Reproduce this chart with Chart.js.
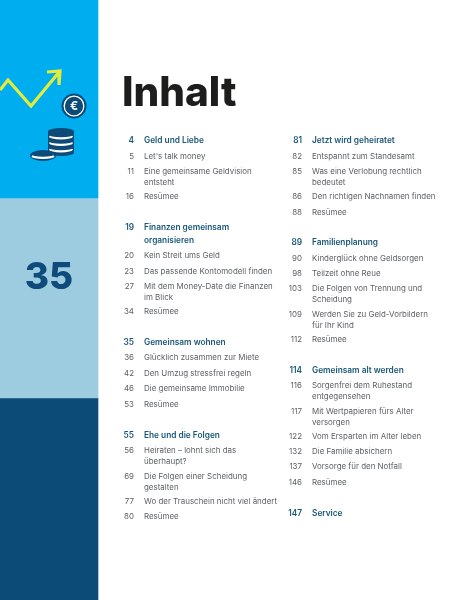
<!DOCTYPE html>
<html lang="de">
<head>
<meta charset="utf-8">
<title>Inhalt</title>
<style>html,body{margin:0;padding:0;background:#fff}#wrap{position:absolute;left:0;top:0;width:461px;height:600px}</style>
<script src="https://cdn.jsdelivr.net/npm/chart.js@4"></script>
</head>
<body>
<div id="wrap"><canvas id="c"></canvas></div>
<script>
const bandEdges = [0, 198, 398, 600];
const bandColors = ['#00aeef', '#9dcbe0', '#0c4a77'];
const arrowLine = [[0,90],[8,80],[31,106],[60,71]];
const arrowHead = [[47,72],[60,71],[59,85]];

const leftPages = ['4','5','11','16','19','20','23','27','34','35','36','42','46','53','55','56','69','77','80'];
const leftTitles = ['Geld und Liebe',"Let's talk money",'Eine gemeinsame Geldvision\nentsteht','Resümee','Finanzen gemeinsam\norganisieren','Kein Streit ums Geld','Das passende Kontomodell finden','Mit dem Money-Date die Finanzen\nim Blick','Resümee','Gemeinsam wohnen','Glücklich zusammen zur Miete','Den Umzug stressfrei regeln','Die gemeinsame Immobilie','Resümee','Ehe und die Folgen','Heiraten – lohnt sich das\nüberhaupt?','Die Folgen einer Scheidung\ngestalten','Wo der Trauschein nicht viel ändert','Resümee'];
const leftRows = [141,157,172,197,228,256,272,287,312,343,358,374,389,405,436,451,477,502,517];
const leftHeads = ['4','19','35','55'];

const rightPages = ['81','82','85','86','88','89','90','98','103','109','112','114','116','117','122','132','137','146','147'];
const rightTitles = ['Jetzt wird geheiratet','Entspannt zum Standesamt','Was eine Verlobung rechtlich\nbedeutet','Den richtigen Nachnamen finden','Resümee','Familienplanung','Kinderglück ohne Geldsorgen','Teilzeit ohne Reue','Die Folgen von Trennung und\nScheidung','Werden Sie zu Geld-Vorbildern\nfür Ihr Kind','Resümee','Gemeinsam alt werden','Sorgenfrei dem Ruhestand\nentgegensehen','Mit Wertpapieren fürs Alter\nversorgen','Vom Ersparten im Alter leben','Die Familie absichern','Vorsorge für den Notfall','Resümee','Service'];
const rightRows = [141,157,172,197,213,243,259,274,289,315,340,371,386,412,437,452,467,483,514];
const rightHeads = ['81','89','114','147'];

const FONT = 'Inter, "Noto Sans", sans-serif';
const columns = [
  {pages:leftPages, titles:leftTitles, rows:leftRows, heads:leftHeads, numX:134, textX:144},
  {pages:rightPages, titles:rightTitles, rows:rightRows, heads:rightHeads, numX:302, textX:312}
];

const tocPlugin = {
  id:'toc',
  afterDatasetsDraw(chart){
    const {ctx, scales:{x,y}} = chart;
    ctx.save();
    const E = (cx,cy,rx,ry,fill)=>{ctx.beginPath();ctx.ellipse(x.getPixelForValue(cx),y.getPixelForValue(cy),rx,ry,0,0,Math.PI*2);ctx.fillStyle=fill;ctx.fill();};
    const navy='#0c4a77';
    // coin stack
    ctx.fillStyle=navy;
    ctx.fillRect(x.getPixelForValue(48),y.getPixelForValue(132),26,21);
    E(61,152.5,13,3.6,navy);
    [149.5,143,136.5].forEach(v=>{E(61,v,12,3,'#fff');E(61,v-2.1,12.5,2.8,navy);});
    E(61,131.5,13,3.6,navy);
    // loose coin
    E(43,155.5,13,5.4,navy);E(43,156.4,11.5,2.7,'#fff');E(43,154,12,2.8,navy);
    // euro badge
    ctx.beginPath();ctx.arc(x.getPixelForValue(74),y.getPixelForValue(106),12.5,0,Math.PI*2);ctx.fillStyle=navy;ctx.fill();
    ctx.beginPath();ctx.arc(x.getPixelForValue(74),y.getPixelForValue(106),9.8,0,Math.PI*2);ctx.strokeStyle='#fff';ctx.lineWidth=1.3;ctx.stroke();
    ctx.textBaseline='middle';ctx.textAlign='center';
    ctx.fillStyle='#fff';ctx.font='700 12px '+FONT;ctx.fillText('€',x.getPixelForValue(74),y.getPixelForValue(106.5));
    // heading
    ctx.textAlign='left';ctx.fillStyle='#1d1d1b';ctx.font='800 40.5px '+FONT;
    ctx.fillText('Inhalt',x.getPixelForValue(122),y.getPixelForValue(94));
    ctx.textAlign='center';ctx.fillStyle='#0e4b7b';ctx.font='800 37px '+FONT;
    ctx.fillText('35',x.getPixelForValue(49),y.getPixelForValue(278));
    // rows
    for(const col of columns){
      col.pages.forEach((p,i)=>{
        const head=col.heads.includes(p), py=y.getPixelForValue(col.rows[i]);
        ctx.font=head?'600 8.3px '+FONT:'400 7.95px '+FONT;
        ctx.fillStyle=head?'#1b5878':'#5c6164';
        ctx.textAlign='right';ctx.fillText(p,x.getPixelForValue(col.numX),py);
        ctx.textAlign='left';
        col.titles[i].split('\n').forEach((t,k)=>ctx.fillText(t,x.getPixelForValue(col.textX),y.getPixelForValue(col.rows[i]+k*(head?13:10.5))));
      });
    }
    ctx.restore();
  }
};

const bars = bandColors.map((c,i)=>({type:'bar',data:[{x:49,y:[bandEdges[i],bandEdges[i+1]]}],backgroundColor:c,barThickness:98,grouped:false,borderWidth:0,order:3}));
const toPts = a=>a.map(p=>({x:p[0],y:p[1]}));
const line = d=>({type:'line',data:toPts(d),borderColor:'#e3ec38',borderWidth:3.2,pointRadius:0,tension:0,fill:false,order:1,borderJoinStyle:'miter'});

new Chart(document.getElementById('c'),{
  data:{datasets:[...bars,line(arrowLine),line(arrowHead)]},
  options:{
    responsive:true,maintainAspectRatio:false,animation:false,
    layout:{padding:0},
    plugins:{legend:{display:false},tooltip:{enabled:false},title:{display:false}},
    scales:{
      x:{type:'linear',min:0,max:461,display:false,offset:false},
      y:{type:'linear',min:0,max:600,reverse:true,display:false}
    }
  },
  plugins:[tocPlugin]
});
</script>
</body>
</html>
